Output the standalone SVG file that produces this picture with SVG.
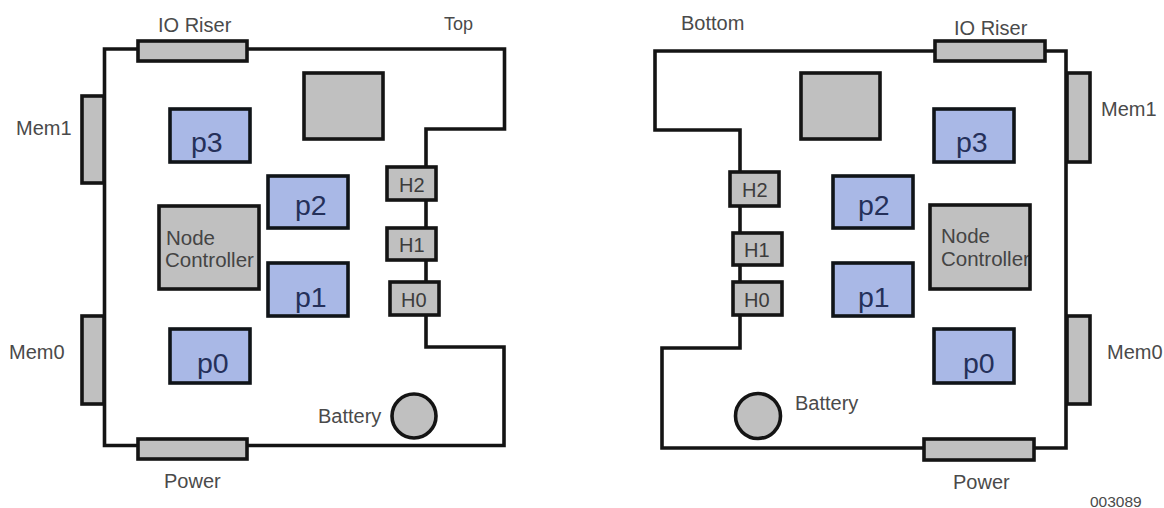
<svg xmlns="http://www.w3.org/2000/svg" width="1164" height="508" viewBox="0 0 1164 508">
<style>
text{font-family:"Liberation Sans",Arial,sans-serif;font-size:20px;fill:#4a4a4a}
.g{fill:#c0c0c0;stroke:#141414;stroke-width:3.600}
.f{fill:#c0c0c0}
.o{fill:none;stroke:#141414;stroke-width:3.600}
.p{fill:#a9b8e6;stroke:#101418;stroke-width:3.600}
.l{fill:none;stroke:#141414;stroke-width:3.600;stroke-linejoin:miter}
.t{font-size:28.500px;fill:#25305a}
.h{fill:#3c3c3c}
.n{font-size:20.500px;fill:#444}
</style>
<rect width="1164" height="508" fill="#fff"/>
<g id="connectors">
<path class="l" d="M104.500 49H504.500V129H426V347H504V445.500H104.500Z"/>
<path class="l" d="M655 51H1066V448H662V348H740V130H655Z"/>
</g>
<g id="labels">
<text x="158" y="32">IO Riser</text>
<text x="444" y="30" style="font-size:18px">Top</text>
<text x="16" y="135">Mem1</text>
<text x="9" y="359">Mem0</text>
<text x="164" y="488">Power</text>
<text x="681" y="30">Bottom</text>
<text x="954" y="35">IO Riser</text>
<text x="1101" y="116">Mem1</text>
<text x="1107" y="359">Mem0</text>
<text x="953" y="489">Power</text>
<text x="1090" y="507" style="font-size:15.500px">003089</text>
</g>
<g id="top-io-riser"><rect class="g" x="138" y="41" width="109" height="20"/></g>
<g id="top-power"><rect class="g" x="138" y="439" width="109" height="20"/></g>
<g id="top-mem1"><rect class="g" x="82" y="96" width="22" height="87"/></g>
<g id="top-mem0"><rect class="g" x="82" y="316" width="22" height="88"/></g>
<g id="top-chip"><rect class="g" x="304" y="73" width="79" height="66"/></g>
<g id="top-p3"><rect class="p" x="170" y="109" width="80" height="53"/><text class="t" x="191" y="152">p3</text></g>
<g id="top-p2"><rect class="p" x="268" y="176" width="80" height="52"/><text class="t" x="295" y="215">p2</text></g>
<g id="top-p1"><rect class="p" x="268" y="263" width="80" height="53"/><text class="t" x="295" y="307">p1</text></g>
<g id="top-p0"><rect class="p" x="170" y="329" width="80" height="54"/><text class="t" x="197" y="373">p0</text></g>
<g id="top-node-controller"><rect class="f" x="159" y="206" width="100" height="83"/><text class="n" x="166" y="245">Node</text><text class="n" x="165" y="267">Controller</text><rect class="o" x="159" y="206" width="100" height="83"/></g>
<g id="top-h2"><rect class="g" x="387" y="167" width="49" height="33"/><text class="h" x="399" y="192">H2</text></g>
<g id="top-h1"><rect class="g" x="387" y="228" width="49" height="32"/><text class="h" x="399" y="252">H1</text></g>
<g id="top-h0"><rect class="g" x="390" y="282" width="49" height="33"/><text class="h" x="401" y="307">H0</text></g>
<g id="top-battery"><circle class="g" cx="414" cy="416" r="22"/><text x="318" y="423">Battery</text></g>
<g id="bottom-io-riser"><rect class="g" x="935" y="41" width="110" height="20"/></g>
<g id="bottom-power"><rect class="g" x="924" y="439" width="110" height="21"/></g>
<g id="bottom-mem1"><rect class="g" x="1067" y="73" width="23" height="89"/></g>
<g id="bottom-mem0"><rect class="g" x="1067" y="316" width="23" height="88"/></g>
<g id="bottom-chip"><rect class="g" x="801" y="73" width="79" height="66"/></g>
<g id="bottom-p3"><rect class="p" x="934" y="109" width="80" height="53"/><text class="t" x="956" y="152">p3</text></g>
<g id="bottom-p2"><rect class="p" x="833" y="176" width="80" height="52"/><text class="t" x="858" y="215">p2</text></g>
<g id="bottom-p1"><rect class="p" x="833" y="263" width="80" height="53"/><text class="t" x="858" y="307">p1</text></g>
<g id="bottom-p0"><rect class="p" x="934" y="329" width="80" height="54"/><text class="t" x="963" y="373">p0</text></g>
<g id="bottom-node-controller"><rect class="f" x="930" y="205" width="100" height="84"/><text class="n" x="941" y="243">Node</text><text class="n" x="941" y="266">Controller</text><rect class="o" x="930" y="205" width="100" height="84"/></g>
<g id="bottom-h2"><rect class="g" x="730" y="172" width="49" height="34"/><text class="h" x="742" y="197">H2</text></g>
<g id="bottom-h1"><rect class="g" x="733" y="233" width="49" height="32"/><text class="h" x="744" y="257">H1</text></g>
<g id="bottom-h0"><rect class="g" x="733" y="282" width="49" height="33"/><text class="h" x="744" y="307">H0</text></g>
<g id="bottom-battery"><circle class="g" cx="758" cy="416" r="22.500"/><text x="795" y="410">Battery</text></g>
</svg>
